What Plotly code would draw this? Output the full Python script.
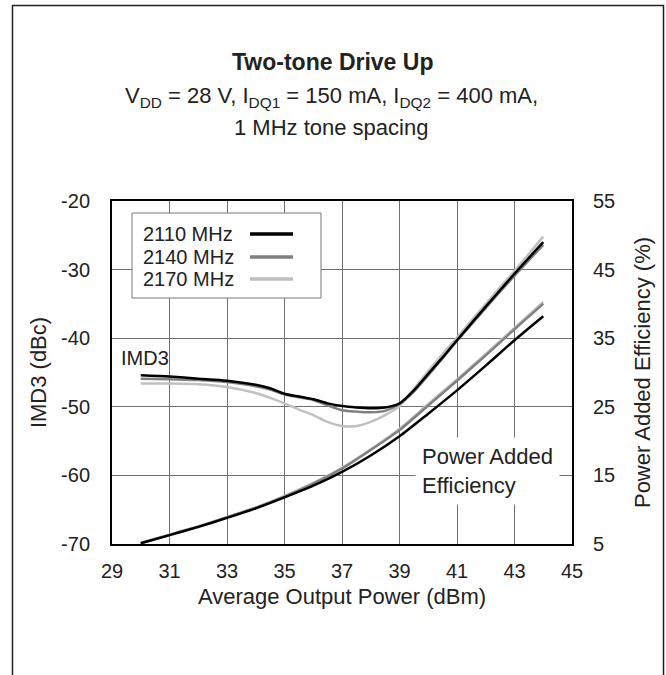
import plotly.graph_objects as go

# ---------------- data ----------------
pout_imd = [30, 31, 32, 33, 34, 34.5, 35, 35.5, 36, 36.5, 37, 37.5, 38, 38.5, 39, 39.5, 40, 40.5, 41, 42, 43, 44]
imd_2110 = [-45.4, -45.6, -45.9, -46.2, -46.8, -47.3, -48.1, -48.5, -48.9, -49.5, -49.9, -50.1, -50.2, -50.1, -49.5, -47.6, -45.2, -42.8, -40.3, -35.4, -30.6, -26.0]
imd_2140 = [-45.9, -46.0, -46.1, -46.4, -47.0, -47.5, -48.2, -48.6, -49.0, -49.8, -50.5, -50.7, -50.8, -50.6, -49.6, -47.8, -45.4, -42.9, -40.4, -35.6, -30.9, -26.4]
imd_2170 = [-46.6, -46.6, -46.7, -47.1, -48.0, -48.7, -49.5, -50.4, -51.2, -52.2, -52.8, -52.8, -52.2, -51.2, -49.9, -47.4, -44.8, -42.3, -39.9, -35.0, -30.2, -25.2]

pout_pae = [30, 31, 32, 33, 34, 35, 36, 37, 38, 39, 40, 41, 42, 43, 44]
pae_2110 = [5.1, 6.3, 7.5, 8.8, 10.2, 11.8, 13.5, 15.5, 17.9, 20.7, 24.0, 27.4, 31.0, 34.7, 38.2]
pae_2140 = [5.1, 6.3, 7.5, 8.9, 10.3, 11.9, 13.8, 16.0, 18.7, 21.6, 25.2, 28.8, 32.5, 36.3, 40.0]
pae_2170 = [5.2, 6.4, 7.6, 8.9, 10.3, 12.0, 13.9, 16.1, 18.8, 21.8, 25.4, 29.0, 32.7, 36.5, 40.3]

series_names = ["2110 MHz", "2140 MHz", "2170 MHz"]
series_colors = ["#000000", "#808080", "#c0c0c0"]

x_ticks = [29, 31, 33, 35, 37, 39, 41, 43, 45]
y_ticks = [-70, -60, -50, -40, -30, -20]
y_tick_labels = ["-70", "-60", "-50", "-40", "-30", "-20"]
y2_ticks = [5, 15, 25, 35, 45, 55]

FONT = "Arial, Liberation Sans, sans-serif"
TXT = "#222222"

fig = go.Figure()

imd_sets = [imd_2110, imd_2140, imd_2170]
pae_sets = [pae_2110, pae_2140, pae_2170]

for i in [2, 1, 0]:
    fig.add_trace(go.Scatter(x=pout_pae, y=pae_sets[i], yaxis="y2", mode="lines",
                             line=dict(color=series_colors[i], width=2.5, shape="spline", smoothing=0.8),
                             showlegend=False, hoverinfo="skip"))
for i in [2, 1, 0]:
    fig.add_trace(go.Scatter(x=pout_imd, y=imd_sets[i], mode="lines",
                             line=dict(color=series_colors[i], width=2.5, shape="spline", smoothing=0.8),
                             showlegend=False, hoverinfo="skip"))

grid_col = "#707070"
fig.update_layout(
    width=666, height=675,
    margin=dict(l=112, r=94, t=201, b=131),
    paper_bgcolor="white", plot_bgcolor="white",
    font=dict(family=FONT, size=20, color=TXT),
    showlegend=False,
    xaxis=dict(range=[29, 45], tickvals=x_ticks, showgrid=True, gridcolor=grid_col, gridwidth=1,
               zeroline=False, showline=True, linecolor="black", linewidth=2, mirror=True,
               ticks="outside", ticklen=8, tickcolor="rgba(0,0,0,0)",
               title=dict(text="Average Output Power (dBm)", font=dict(size=22), standoff=8),
               tickfont=dict(size=20)),
    yaxis=dict(range=[-70, -20], tickvals=y_ticks, ticktext=y_tick_labels, showgrid=True,
               gridcolor=grid_col, gridwidth=1,
               zeroline=False, showline=True, linecolor="black", linewidth=2, mirror=True,
               ticks="outside", ticklen=16, tickcolor="rgba(0,0,0,0)",
               title=dict(text="IMD3 (dBc)", font=dict(size=22), standoff=8),
               tickfont=dict(size=20)),
    yaxis2=dict(range=[5, 55], tickvals=y2_ticks, overlaying="y", side="right", showgrid=False,
                zeroline=False, showline=False,
                ticks="outside", ticklen=16, tickcolor="rgba(0,0,0,0)",
                title=dict(text="Power Added Efficiency (%)", font=dict(size=22), standoff=20),
                tickfont=dict(size=20)),
)

# Outer border
fig.add_shape(type="rect", xref="paper", yref="paper",
              x0=(12.5 - 112) / 460, x1=(663.5 - 112) / 460,
              y0=(544 - 700) / 343, y1=(544 - 5.5) / 343,
              line=dict(color="#222", width=1.5), fillcolor="rgba(0,0,0,0)", layer="below")

# Titles
fig.add_annotation(text="<b>Two-tone Drive Up</b>", xref="paper", yref="paper",
                   x=(332 - 112) / 460, y=(544 - 62) / 343, showarrow=False,
                   xanchor="center", yanchor="middle", font=dict(size=23, color=TXT))
fig.add_annotation(text="V<sub>DD</sub> = 28 V, I<sub>DQ1</sub> = 150 mA, I<sub>DQ2</sub> = 400 mA,",
                   xref="paper", yref="paper",
                   x=(331 - 112) / 460, y=(544 - 97) / 343, showarrow=False,
                   xanchor="center", yanchor="middle", font=dict(size=22, color=TXT))
fig.add_annotation(text="1 MHz tone spacing", xref="paper", yref="paper",
                   x=(331 - 112) / 460, y=(544 - 128) / 343, showarrow=False,
                   xanchor="center", yanchor="middle", font=dict(size=22, color=TXT))

# Curve labels
fig.add_annotation(text="IMD3", x=29.25, y=-42.9, showarrow=False, xanchor="left", yanchor="middle",
                   font=dict(size=20, color=TXT))
fig.add_annotation(text="Power Added<br>Efficiency", x=39.55, y=-59.3, showarrow=False,
                   xanchor="left", yanchor="middle", align="left", bgcolor="white", borderpad=6,
                   font=dict(size=22, color=TXT))

# Custom legend (text left, line sample right)
lx0, lx1 = (132 - 112) / 460, (321 - 112) / 460
ly0, ly1 = (544 - 298) / 343, (544 - 213) / 343
fig.add_shape(type="rect", xref="paper", yref="paper", x0=lx0, x1=lx1, y0=ly0, y1=ly1,
              line=dict(color="#777", width=1), fillcolor="white")
row_px = [234, 257, 279]
for name, col, rp in zip(series_names, series_colors, row_px):
    yy = (544 - rp) / 343
    fig.add_annotation(text=name, xref="paper", yref="paper", x=(141 - 112) / 460, y=yy,
                       showarrow=False, xanchor="left", yanchor="middle",
                       font=dict(size=20, color=TXT))
    fig.add_shape(type="line", xref="paper", yref="paper",
                  x0=(250 - 112) / 460, x1=(293 - 112) / 460, y0=yy, y1=yy,
                  line=dict(color=col, width=3.5))

fig.write_html("out.html", config={"displayModeBar": False},
               post_script="document.body.style.margin='0';")
